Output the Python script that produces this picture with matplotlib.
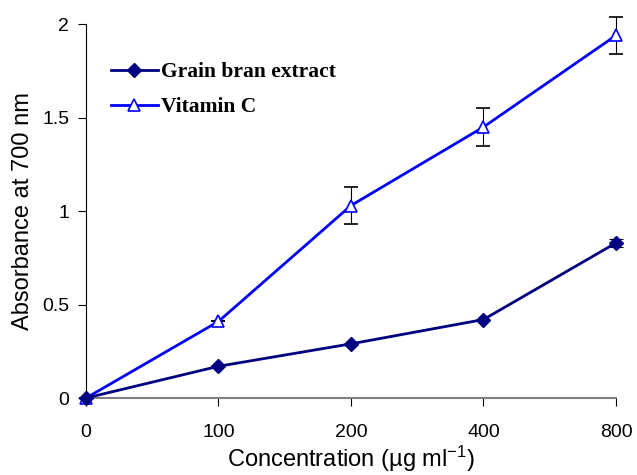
import numpy as np
import matplotlib
matplotlib.use("Agg")
import matplotlib.pyplot as plt
from matplotlib.lines import Line2D

conc_labels = ["0", "100", "200", "400", "800"]
grain = [0.0, 0.17, 0.29, 0.42, 0.83]
grain_err = [0.0, 0.0, 0.0, 0.0, 0.02]
vitc = [0.0, 0.41, 1.03, 1.45, 1.94]
vitc_err = [0.0, 0.0, 0.10, 0.10, 0.10]

plt.rcParams['font.family'] = ['Liberation Sans', 'DejaVu Sans']
plt.rcParams['mathtext.fontset'] = 'custom'
plt.rcParams['mathtext.rm'] = 'Liberation Sans'
plt.rcParams['mathtext.it'] = 'Liberation Sans'

fig = plt.figure(figsize=(6.37, 4.75), dpi=100)
ax = fig.add_axes([0.135, 0.162, 0.832, 0.787])

x = np.arange(len(conc_labels))

ax.errorbar(x, vitc, yerr=vitc_err, color='#0000ff', ecolor='black', elinewidth=0.8,
            capsize=5, capthick=0.8, marker='^', markersize=9, markerfacecolor='white',
            markeredgecolor='#0000ff', markeredgewidth=1.2, linewidth=2,
            clip_on=False, zorder=3)
ax.errorbar(x, grain, yerr=grain_err, color='#000080', ecolor='black', elinewidth=0.8,
            capsize=5, capthick=0.8, marker='D', markersize=7, markerfacecolor='#000080',
            markeredgecolor='#000080', linewidth=2,
            clip_on=False, zorder=3)

ax.set_xlim(0, 4)
ax.set_ylim(0, 2)
ax.set_xticks(x)
ax.set_xticklabels(conc_labels)
ax.set_yticks([0, 0.5, 1, 1.5, 2])
ax.set_yticklabels(["0", "0.5", "1", "1.5", "2"])

ax.spines['top'].set_visible(False)
ax.spines['right'].set_visible(False)
ax.spines['bottom'].set_color('#808080')
ax.spines['bottom'].set_linewidth(1.5)
ax.spines['left'].set_color('black')
ax.spines['left'].set_linewidth(0.8)
ax.tick_params(axis='both', labelsize=14, direction='out', length=6, width=0.8)
ax.tick_params(axis='x', pad=13)
ax.tick_params(axis='y', pad=6)

ax.set_xlabel("Concentration (µg ml$^{-1}$)", fontsize=17, labelpad=2)
ax.set_ylabel("Absorbance at 700 nm", fontsize=17, labelpad=6)

handles = [
    Line2D([], [], color='#000080', marker='D', markersize=7, linewidth=2,
           markerfacecolor='#000080'),
    Line2D([], [], color='#0000ff', marker='^', markersize=9, linewidth=2,
           markerfacecolor='white', markeredgewidth=1.2),
]
ax.legend(handles, ["Grain bran extract", "Vitamin C"], loc='upper left',
          bbox_to_anchor=(0.01, 0.95), frameon=False, handlelength=2.2,
          handletextpad=0.15, labelspacing=0.7,
          prop={'family': 'Liberation Serif', 'weight': 'bold', 'size': 15.5})

fig.savefig("out.png", dpi=100)
